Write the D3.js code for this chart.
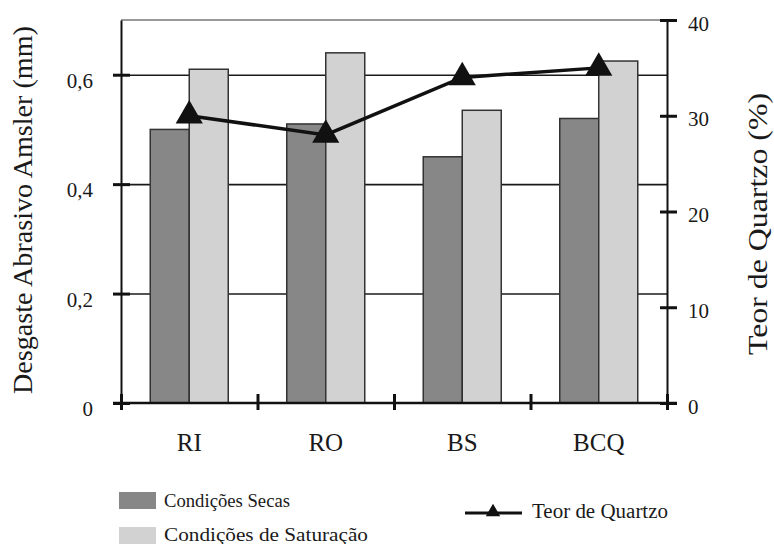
<!DOCTYPE html>
<html><head><meta charset="utf-8">
<script src="https://cdn.jsdelivr.net/npm/d3@7"></script>
<style>body{margin:0;background:#fff}svg{display:block}text{font-family:"Liberation Serif","Times New Roman",serif;fill:#1a1a1a}</style>
</head><body><svg id="c" width="774" height="544"></svg>
<script>
const categories = ["RI", "RO", "BS", "BCQ"];
const seriesNames = ["Condições Secas", "Condições de Saturação"];
const dryValues = [0.50, 0.51, 0.45, 0.52];
const saturatedValues = [0.61, 0.64, 0.535, 0.625];
const quartzValues = [30, 28, 34, 35];
const leftTicks = [0, 0.2, 0.4, 0.6];
const leftTickLabels = ["0", "0,2", "0,4", "0,6"];
const rightTicks = [0, 10, 20, 30, 40];
const lineName = "Teor de Quartzo";
const leftTitle = "Desgaste Abrasivo Amsler (mm)";
const rightTitle = "Teor de Quartzo (%)";

const svg = d3.select("#c");
const m = {l: 121, r: 667, t: 20, b: 403};
const x = d3.scaleBand().domain(categories).range([m.l, m.r]).padding(0);
const xs = d3.scaleBand().domain(seriesNames).range([0, x.bandwidth()]).paddingInner(0).paddingOuter(0.75);
const xi = d3.scaleLinear().domain([0, categories.length]).range([m.l, m.r]);
const y = d3.scaleLinear().domain([0, 0.7]).range([m.b, m.t]);
const y2 = d3.scaleLinear().domain([0, 40]).range([m.b, m.t]);
const colors = {"Condições Secas": "#878787", "Condições de Saturação": "#d2d2d2"};
const serif = "Liberation Serif, Times New Roman, serif";

// top border
svg.append("line").attr("x1", m.l).attr("x2", m.r).attr("y1", y(0.7)).attr("y2", y(0.7))
  .attr("stroke", "#777").attr("stroke-width", 1.5);

// gridlines
const grid = svg.append("g").attr("transform", `translate(${m.l},0)`)
  .call(d3.axisLeft(y).tickValues([0.2, 0.4, 0.6]).tickSize(-(m.r - m.l)).tickFormat(""));
grid.select(".domain").remove();
grid.selectAll("line").attr("stroke", "#1a1a1a").attr("stroke-width", 1.6);

// bars
const rows = categories.map((c, i) => ({c, vals: [dryValues[i], saturatedValues[i]]}));
const groups = svg.append("g").selectAll("g").data(rows).join("g")
  .attr("transform", d => `translate(${x(d.c)},0)`);
groups.selectAll("rect").data(d => d.vals.map((v, j) => ({k: seriesNames[j], v}))).join("rect")
  .attr("x", d => xs(d.k)).attr("width", xs.bandwidth())
  .attr("y", d => y(d.v)).attr("height", d => y(0) - y(d.v))
  .attr("fill", d => colors[d.k]).attr("stroke", "#333").attr("stroke-width", 1.5);

// left axis
const ga = svg.append("g").attr("transform", `translate(${m.l},0)`)
  .call(d3.axisLeft(y).tickValues(leftTicks).tickFormat((d, i) => leftTickLabels[i]).tickSize(8).tickSizeOuter(0).tickPadding(20));
ga.attr("font-family", serif);
ga.select(".domain").attr("stroke", "#111").attr("stroke-width", 2);
ga.selectAll(".tick line").attr("x1", 9).attr("stroke", "#111").attr("stroke-width", 3);
ga.selectAll(".tick text").attr("font-size", 21).attr("dy", "0.6em").attr("fill", "#1a1a1a");

// right axis
const gb = svg.append("g").attr("transform", `translate(${m.r},0)`)
  .call(d3.axisRight(y2).tickValues(rightTicks).tickSize(10).tickSizeOuter(0).tickPadding(11));
gb.attr("font-family", serif);
gb.select(".domain").attr("stroke", "#111").attr("stroke-width", 2);
gb.selectAll(".tick line").attr("x1", -7).attr("stroke", "#111").attr("stroke-width", 3);
gb.selectAll(".tick text").attr("font-size", 21).attr("dy", "0.48em").attr("fill", "#1a1a1a");

// bottom axis: boundary ticks
const gc = svg.append("g").attr("transform", `translate(0,${m.b})`)
  .call(d3.axisBottom(xi).ticks(categories.length).tickFormat("").tickSize(7).tickSizeOuter(0));
gc.select(".domain").attr("d", `M${m.l - 8},0H${m.r + 10}`).attr("stroke", "#111").attr("stroke-width", 2.5);
gc.selectAll(".tick line").attr("y1", -9).attr("stroke", "#111").attr("stroke-width", 3);
// category labels
const gd = svg.append("g").attr("transform", `translate(0,${m.b})`)
  .call(d3.axisBottom(x).tickSize(0));
gd.attr("font-family", serif);
gd.select(".domain").remove();
gd.selectAll(".tick text").attr("y", 48).attr("dy", 0).attr("font-size", 25).attr("fill", "#1a1a1a");

// line
const pts = categories.map((c, i) => [x(c) + x.bandwidth() / 2, y2(quartzValues[i])]);
svg.append("path").datum(pts).attr("d", d3.line()).attr("fill", "none").attr("stroke", "#111").attr("stroke-width", 3.5);
svg.append("g").selectAll("path").data(pts).join("path")
  .attr("transform", d => `translate(${d[0]},${d[1]})`)
  .attr("d", d3.symbol(d3.symbolTriangle, 320)).attr("fill", "#111");

// axis titles
svg.append("text").attr("transform", `translate(32,210) rotate(-90)`).attr("text-anchor", "middle")
  .attr("font-size", 28).attr("textLength", 368).attr("lengthAdjust", "spacingAndGlyphs").text(leftTitle);
svg.append("text").attr("transform", `translate(767,224) rotate(-90)`).attr("text-anchor", "middle")
  .attr("font-size", 27).attr("textLength", 262).attr("lengthAdjust", "spacingAndGlyphs").text(rightTitle);

// legend
const legendLengths = [126, 204];
const lg = svg.append("g");
seriesNames.forEach((s, i) => {
  lg.append("rect").attr("x", 119).attr("y", 492 + i * 35).attr("width", 37).attr("height", 17).attr("fill", colors[s]);
  lg.append("text").attr("x", 164).attr("y", 507 + i * 34).attr("font-size", 19)
    .attr("textLength", legendLengths[i]).attr("lengthAdjust", "spacingAndGlyphs").text(s);
});
lg.append("line").attr("x1", 465).attr("x2", 522).attr("y1", 513).attr("y2", 513).attr("stroke", "#111").attr("stroke-width", 3);
lg.append("path").attr("transform", "translate(493,512)").attr("d", d3.symbol(d3.symbolTriangle, 90)).attr("fill", "#111");
lg.append("text").attr("x", 532).attr("y", 518).attr("font-size", 20)
  .attr("textLength", 136).attr("lengthAdjust", "spacingAndGlyphs").text(lineName);
</script></body></html>
